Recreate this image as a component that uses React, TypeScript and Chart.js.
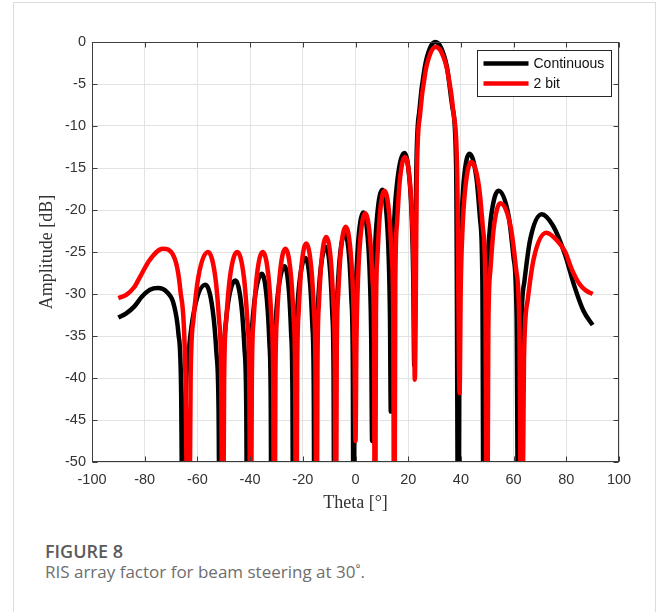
import React, { useEffect, useRef } from "react";
import { Chart, registerables } from "chart.js";

Chart.register(...registerables);

// ---- Data ----
const seriesLabels = ["Continuous", "2 bit"];

const thetaContinuous = [
  -90, -87, -84, -81, -78, -75, -71.5, -69, -67.2, -66.2, -65.4,
  -64.56, -63.3, -61.2, -57.0, -54.2, -52.8, -51.96, -51.4,
  -50.82, -49.95, -48.5, -45.6, -43.3, -42.15, -41.46, -41.0,
  -40.45, -39.6, -38.25, -35.5, -33.65, -32.7, -32.17, -31.8,
  -31.31, -30.58, -29.35, -26.9, -25.25, -24.43, -23.93, -23.6,
  -23.14, -22.45, -21.3, -19.0, -17.25, -16.38, -15.85, -15.5,
  -15.07, -14.43, -13.35, -11.2, -9.6, -8.8, -8.32, -8.0,
  -7.6, -7.0, -6.0, -4.0, -2.35, -1.53, -1.03, -0.7,
  -0.33, 0.23, 1.15, 3.0, 4.65, 5.48, 5.97, 6.3,
  6.69, 7.28, 8.25, 10.2, 11.8, 12.6, 13.08, 13.4,
  13.92, 14.7, 16.0, 18.6, 20.45, 21.38, 21.93, 22.3,
  23.1, 24.3, 26.3, 28.3, 30.3, 32.5, 34.7, 36.9, 38.2, 39.1,
  39.51, 40.13, 41.15, 43.2, 45.95, 47.33, 48.15, 48.7,
  49.26, 50.1, 51.5, 54.3, 58.1, 60.0, 61.14, 61.9,
  62.78, 64.1, 66.3, 70.7, 75.0, 79.5, 83.0, 86.5, 90.0,
];
const ampContinuous = [
  -32.8, -32.3, -31.5, -30.3, -29.5, -29.3, -29.8, -31.2, -34.7, -41, -70,
  -43.9, -36.9, -31.9, -28.9, -31.9, -36.9, -43.9, -70,
  -43.4, -36.4, -31.4, -28.4, -31.4, -36.4, -43.4, -70,
  -42.6, -35.6, -30.6, -27.6, -30.6, -35.6, -42.6, -70,
  -41.7, -34.7, -29.7, -26.7, -29.7, -34.7, -41.7, -70,
  -40.7, -33.7, -28.7, -25.7, -28.7, -33.7, -40.7, -70,
  -39.4, -32.4, -27.4, -24.4, -27.4, -32.4, -39.4, -70,
  -37.8, -30.8, -25.8, -22.8, -25.8, -30.8, -37.8, -70,
  -35.3, -28.3, -23.3, -20.3, -23.3, -28.3, -35.3, -47.5,
  -32.6, -25.6, -20.6, -17.6, -20.6, -25.6, -32.6, -44,
  -28.2, -21.2, -16.2, -13.2, -16.2, -21.2, -28.2, -38.5,
  -15, -8, -3, -0.7, 0, -0.7, -3, -8, -15, -70,
  -28.3, -21.3, -16.3, -13.3, -16.3, -21.3, -28.3, -70,
  -32.7, -25.7, -20.7, -17.7, -20.7, -25.7, -32.7, -70,
  -35.5, -28.5, -23.5, -20.5, -21.9, -25.3, -29.0, -32.0, -33.7,
];

const theta2bit = [
  -90, -87, -84, -81.5, -78, -73.2, -69, -66.5, -64.6, -63.3,
  -62.57, -61.48, -59.65, -56.0, -53.2, -51.8, -50.96, -50.4,
  -49.85, -49.03, -47.65, -44.9, -42.35, -41.08, -40.31, -39.8,
  -39.34, -38.65, -37.5, -35.2, -33.0, -31.9, -31.24, -30.8,
  -30.38, -29.75, -28.7, -26.6, -24.55, -23.53, -22.91, -22.5,
  -22.12, -21.55, -20.6, -18.7, -16.75, -15.78, -15.19, -14.8,
  -14.43, -13.88, -12.95, -11.1, -9.3, -8.4, -7.86, -7.5,
  -7.12, -6.55, -5.6, -3.7, -1.85, -0.93, -0.37, 0.0,
  0.37, 0.93, 1.85, 3.7, 5.55, 6.48, 7.03, 7.4,
  7.76, 8.3, 9.2, 11.0, 12.85, 13.78, 14.33, 14.7,
  15.11, 15.73, 16.75, 18.8, 20.65, 21.58, 22.13, 22.5,
  23.3, 24.5, 26.5, 28.5, 30.5, 32.75, 35.0, 37.25, 38.6, 39.5,
  39.94, 40.6, 41.7, 43.9, 46.9, 48.4, 49.3, 49.9,
  50.41, 51.18, 52.45, 55.0, 59.0, 61.0, 62.2, 63.0,
  63.94, 65.35, 67.7, 72.4, 76.4, 79.6, 82.0, 85.0, 87.5, 90.0,
];
const amp2bit = [
  -30.5, -30.1, -29.2, -27.8, -25.9, -24.6, -25.5, -29.5, -39, -70,
  -40, -33, -28, -25.0, -28, -33, -40, -70,
  -40, -33, -28, -25.0, -28, -33, -40, -70,
  -40, -33, -28, -25.0, -28, -33, -40, -70,
  -39.6, -32.6, -27.6, -24.6, -27.6, -32.6, -39.6, -70,
  -39, -32, -27, -24.0, -27, -32, -39, -70,
  -38.2, -31.2, -26.2, -23.2, -26.2, -31.2, -38.2, -70,
  -37, -30, -25, -22.0, -25, -30, -37, -47.5,
  -35.4, -28.4, -23.4, -20.4, -23.4, -28.4, -35.4, -70,
  -32.7, -25.7, -20.7, -17.7, -20.7, -25.7, -32.7, -70,
  -28.7, -21.7, -16.7, -13.7, -16.7, -21.7, -28.7, -40.2,
  -15.6, -8.6, -3.6, -1.3, -0.6, -1.3, -3.6, -8.6, -15.6, -41.8,
  -29.3, -22.3, -17.3, -14.3, -17.3, -22.3, -29.3, -70,
  -34.2, -27.2, -22.2, -19.2, -22.2, -27.2, -34.2, -70,
  -37.7, -30.7, -25.7, -22.7, -23.6, -25.0, -27.0, -28.8, -29.6, -30.0,
];

const xTickValues = [-100, -80, -60, -40, -20, 0, 20, 40, 60, 80, 100];
const yTickValues = [-50, -45, -40, -35, -30, -25, -20, -15, -10, -5, 0];

const seriesColors = ["#000000", "#ff0000"];

const TICK_FONT = '"Liberation Sans", Arial, Helvetica, sans-serif';
const TITLE_FONT = '"Liberation Serif", "Times New Roman", Times, serif';

export default function App() {
  const canvasRef = useRef<HTMLCanvasElement | null>(null);

  useEffect(() => {
    const canvas = canvasRef.current;
    if (!canvas) return;

    const toPoints = (xs: number[], ys: number[]) => xs.map((x, i) => ({ x, y: ys[i] }));

    const boxPlugin = {
      id: "matlabBox",
      afterDatasetsDraw(chart: any) {
        const { ctx, chartArea: a, scales } = chart;
        const L = Math.round(a.left) + 0.5;
        const R = Math.round(a.right) - 0.5;
        const T = Math.round(a.top) + 0.5;
        const B = Math.round(a.bottom) - 0.5;
        const tl = 5;
        ctx.save();
        ctx.strokeStyle = "#3d3d3d";
        ctx.lineWidth = 1;
        ctx.beginPath();
        for (const v of xTickValues) {
          const px = Math.round(scales.x.getPixelForValue(v)) + 0.5;
          ctx.moveTo(px, B);
          ctx.lineTo(px, B - tl);
          ctx.moveTo(px, T);
          ctx.lineTo(px, T + tl);
        }
        for (const v of yTickValues) {
          const py = Math.round(scales.y.getPixelForValue(v)) + 0.5;
          ctx.moveTo(L, py);
          ctx.lineTo(L + tl, py);
          ctx.moveTo(R, py);
          ctx.lineTo(R - tl, py);
        }
        ctx.stroke();
        ctx.strokeRect(L, T, R - L, B - T);
        ctx.restore();
      },
      afterDraw(chart: any) {
        const { ctx, chartArea: a } = chart;
        const lw = 134;
        const lh = 46;
        const lx = Math.round(a.right) - 142 + 0.5;
        const ly = Math.round(a.top) + 8 + 0.5;
        ctx.save();
        ctx.fillStyle = "#ffffff";
        ctx.fillRect(lx, ly, lw, lh);
        ctx.strokeStyle = "#262626";
        ctx.lineWidth = 1;
        ctx.strokeRect(lx, ly, lw, lh);
        ctx.font = `14px ${TICK_FONT}`;
        ctx.textBaseline = "middle";
        ctx.textAlign = "left";
        seriesLabels.forEach((label, i) => {
          const y = ly + 13 + i * 20;
          ctx.strokeStyle = seriesColors[i];
          ctx.lineWidth = 4.5;
          ctx.beginPath();
          ctx.moveTo(lx + 6, y);
          ctx.lineTo(lx + 51, y);
          ctx.stroke();
          ctx.fillStyle = "#111111";
          ctx.fillText(label, lx + 56, y + 0.5);
        });
        ctx.restore();
      },
    };

    const chart = new Chart(canvas, {
      type: "line",
      data: {
        datasets: [
          {
            label: seriesLabels[0],
            data: toPoints(thetaContinuous, ampContinuous),
            borderColor: seriesColors[0],
            backgroundColor: seriesColors[0],
            borderWidth: 4.5,
            pointRadius: 0,
            cubicInterpolationMode: "monotone",
            fill: false,
            order: 2,
            clip: { left: 0, right: 0, top: 4, bottom: 0 },
          },
          {
            label: seriesLabels[1],
            data: toPoints(theta2bit, amp2bit),
            borderColor: seriesColors[1],
            backgroundColor: seriesColors[1],
            borderWidth: 4.5,
            pointRadius: 0,
            cubicInterpolationMode: "monotone",
            fill: false,
            order: 1,
            clip: { left: 0, right: 0, top: 4, bottom: 0 },
          },
        ],
      },
      options: {
        animation: false,
        responsive: false,
        devicePixelRatio: 1,
        events: [],
        layout: { padding: { left: 0, right: 42, top: 42, bottom: 0 } },
        plugins: {
          legend: { display: false },
          tooltip: { enabled: false },
        },
        scales: {
          x: {
            type: "linear",
            position: "bottom",
            min: -100,
            max: 100,
            afterBuildTicks: (s: any) => {
              s.ticks = xTickValues.map((v) => ({ value: v }));
            },
            afterFit: (s: any) => {
              s.height = 58;
            },
            ticks: {
              padding: 9,
              color: "#333333",
              font: { family: TICK_FONT, size: 14.5 },
              maxRotation: 0,
              autoSkip: false,
            },
            grid: { color: "#e3e3e3", lineWidth: 1, drawTicks: false },
            border: { display: false },
            title: {
              display: true,
              text: "Theta [°]",
              color: "#333333",
              font: { family: TITLE_FONT, size: 18 },
              padding: { top: 0, bottom: 6 },
            },
          },
          y: {
            type: "linear",
            position: "left",
            min: -50,
            max: 0,
            afterBuildTicks: (s: any) => {
              s.ticks = yTickValues.map((v) => ({ value: v }));
            },
            afterFit: (s: any) => {
              s.width = 92;
            },
            ticks: {
              padding: 6,
              color: "#333333",
              font: { family: TICK_FONT, size: 14.5 },
              autoSkip: false,
            },
            grid: { color: "#e3e3e3", lineWidth: 1, drawTicks: false },
            border: { display: false },
            title: {
              display: true,
              text: "Amplitude [dB]",
              color: "#333333",
              font: { family: TITLE_FONT, size: 18 },
              padding: { top: 36, bottom: 0 },
            },
          },
        },
      },
      plugins: [boxPlugin],
    } as any);

    return () => {
      chart.destroy();
    };
  }, []);

  return (
    <div
      style={{
        position: "absolute",
        left: 0,
        top: 0,
        width: 661,
        height: 612,
        background: "#ffffff",
        overflow: "hidden",
      }}
    >
      <div
        style={{
          position: "absolute",
          left: 13,
          top: 2,
          width: 643,
          height: 660,
          boxSizing: "border-box",
          border: "1px solid #dcdcdc",
        }}
      />
      <canvas
        ref={canvasRef}
        width={661}
        height={520}
        style={{ position: "absolute", left: 0, top: 0, width: 661, height: 520 }}
      />
      <div
        style={{
          position: "absolute",
          left: 45,
          top: 542,
          fontFamily: '"Open Sans", "Noto Sans", sans-serif',
          fontWeight: 600,
          fontSize: 18,
          lineHeight: "18px",
          color: "#5b5b5b",
          whiteSpace: "nowrap",
        }}
      >
        FIGURE 8
      </div>
      <div
        style={{
          position: "absolute",
          left: 45,
          top: 563,
          fontFamily: '"Open Sans", "Noto Sans", sans-serif',
          fontWeight: 400,
          fontSize: 17,
          lineHeight: "17px",
          color: "#6e6e6e",
          whiteSpace: "nowrap",
        }}
      >
        RIS array factor for beam steering at 30˚.
      </div>
    </div>
  );
}
